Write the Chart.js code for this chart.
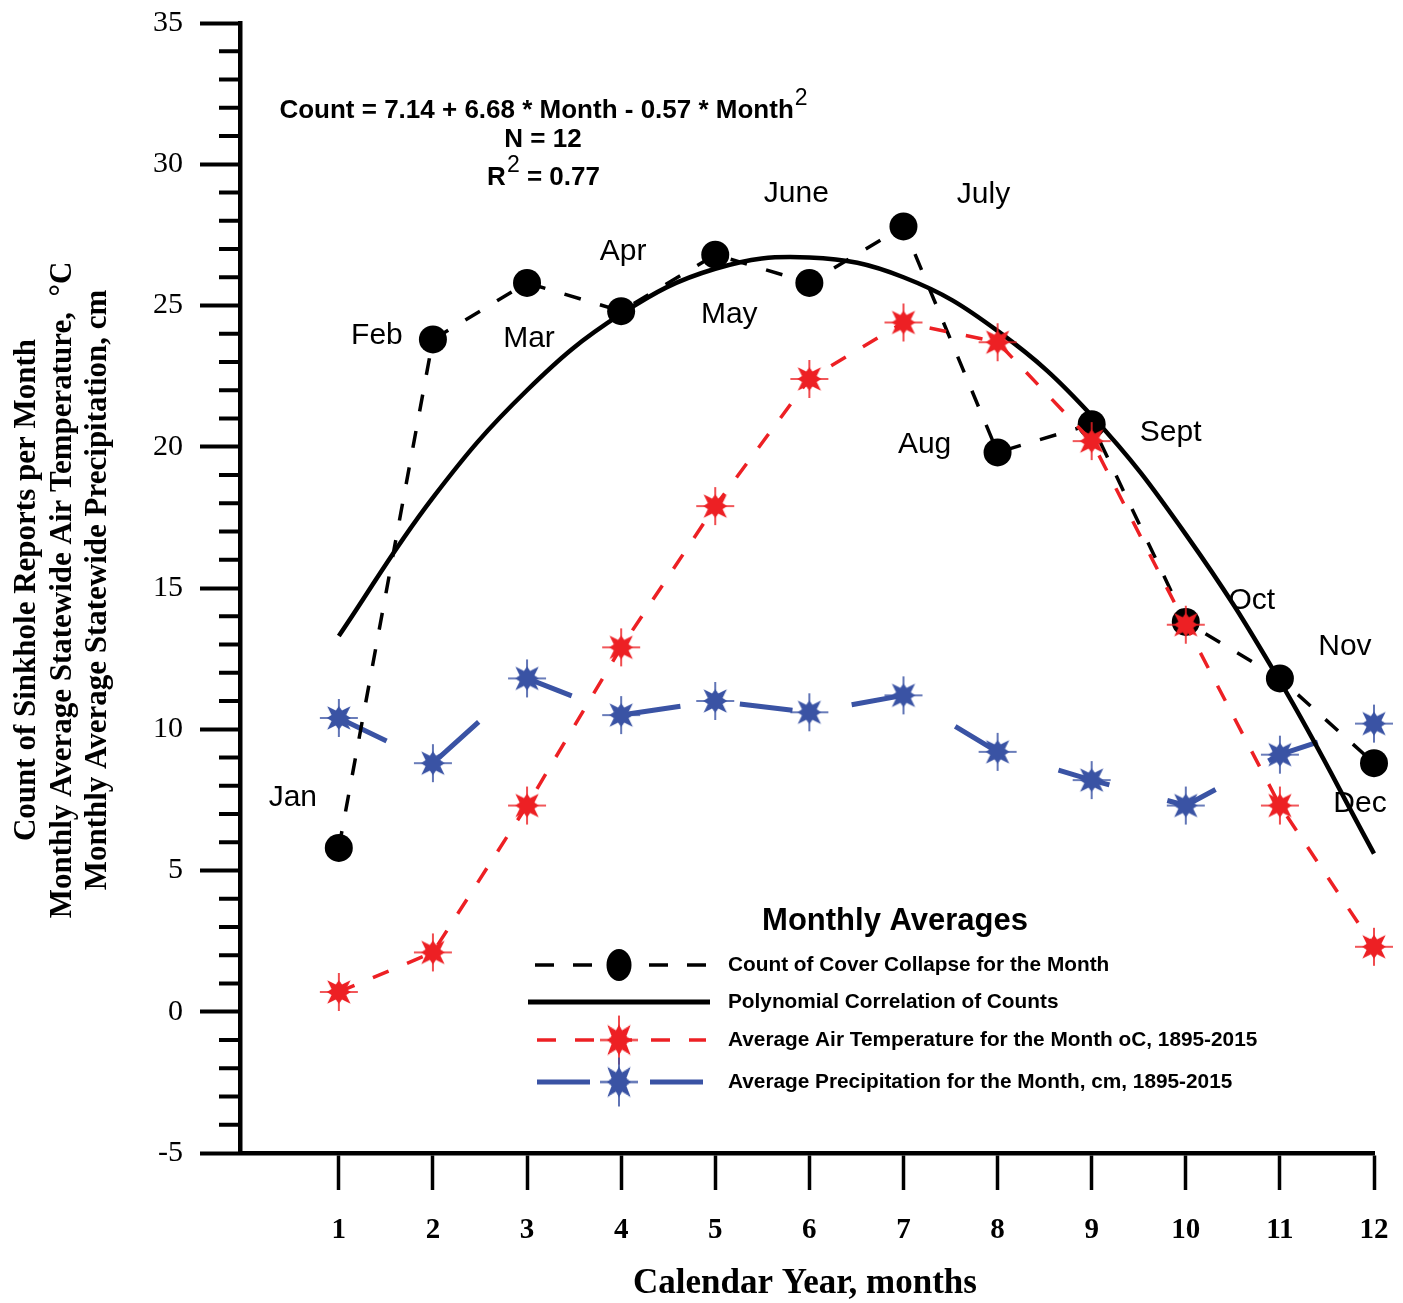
<!DOCTYPE html>
<html><head><meta charset="utf-8">
<script src="https://cdn.jsdelivr.net/npm/chart.js@4.4.1/dist/chart.umd.min.js"></script>
<style>html,body{margin:0;padding:0;background:#fff;}canvas{display:block;}</style>
</head><body>
<canvas id="c" width="1403" height="1303"></canvas>
<script>
// ---------- DATA ----------
const months = [1,2,3,4,5,6,7,8,9,10,11,12];
const monthNames = ['Jan','Feb','Mar','Apr','May','June','July','Aug','Sept','Oct','Nov','Dec'];
const countValues = [5.8,23.8,25.8,24.8,26.8,25.8,27.8,19.8,20.8,13.8,11.8,8.8];
const polyFitValues = [13.3,18.2,22.0,24.7,26.3,26.7,26.0,24.1,21.1,16.9,11.7,5.6];
const temperatureValues = [0.7,2.1,7.3,12.9,17.9,22.4,24.4,23.7,20.2,13.7,7.3,2.3];
const precipitationValues = [10.4,8.8,11.8,10.5,11.0,10.6,11.2,9.2,8.2,7.3,9.1,10.2];
const yTickValues = [-5,0,5,10,15,20,25,30,35];
const xTickValues = [1,2,3,4,5,6,7,8,9,10,11,12];
const legendTitle = 'Monthly Averages';
const legendLabels = ['Count of Cover Collapse for the Month','Polynomial Correlation of Counts','Average Air Temperature for the Month oC, 1895-2015','Average Precipitation for the Month, cm, 1895-2015'];
const equationMain = 'Count = 7.14 + 6.68 * Month - 0.57 * Month';
const equationN = 'N = 12';
const equationR = ' = 0.77';
const yTitleLines = ['Count of Sinkhole Reports per Month','Monthly Average Statewide Air Temperature,  \u00B0C','Monthly Average Statewide Precipitation, cm'];
const xTitle = 'Calendar Year, months';

// ---------- STYLE / LAYOUT ----------
const RED = '#ED2024', BLUE = '#3A53A4', BLACK = '#000000';
const labelOffsets = [[-46,-50],[-56,-4],[2,56],[2,-59],[14,60],[-13,-89],[80,-32],[-73,-8],[79,9],[66,-21],[65,-32],[-14,41]];
const SERIF = '"Liberation Serif","Times New Roman",serif';
const SANS = '"Liberation Sans",Arial,sans-serif';

function makeStar(color){
  const s = 42, c = document.createElement('canvas'); c.width = s; c.height = s;
  const g = c.getContext('2d'); const m = s/2;
  g.strokeStyle = color; g.lineWidth = 1.6;
  g.beginPath(); g.moveTo(m-19,m); g.lineTo(m+19,m); g.moveTo(m,m-19); g.lineTo(m,m+19); g.stroke();
  g.fillStyle = color; g.beginPath();
  for (let i=0;i<16;i++){
    const a = -Math.PI/2 + i*Math.PI/8;
    let r;
    if (i%2===1) r = 8; else { const k=i/2; r = (k%2===1) ? 16.5 : 12; }
    const px = m + r*Math.cos(a), py = m + r*Math.sin(a);
    if (i===0) g.moveTo(px,py); else g.lineTo(px,py);
  }
  g.closePath(); g.fill();
  return c;
}
const redStar = makeStar(RED), blueStar = makeStar(BLUE);

const toXY = arr => months.map((m,i)=>({x:m, y:arr[i]}));

const extras = {
  id:'extras',
  afterDraw(chart){
    const ctx = chart.ctx, ca = chart.chartArea, ys = chart.scales.y;
    ctx.save();
    // minor ticks on y axis
    ctx.strokeStyle = BLACK; ctx.lineWidth = 4;
    for (let v = ys.min; v <= ys.max; v += 1){
      if (Math.round(v) % 5 === 0) continue;
      const py = ys.getPixelForValue(v);
      ctx.beginPath(); ctx.moveTo(ca.left-21, py); ctx.lineTo(ca.left, py); ctx.stroke();
    }
    // month labels
    const meta = chart.getDatasetMeta(1);
    ctx.fillStyle = BLACK; ctx.font = '30px '+SANS; ctx.textAlign='center'; ctx.textBaseline='middle';
    meta.data.forEach((pt,i)=>{
      ctx.fillText(monthNames[i], pt.x + labelOffsets[i][0], pt.y + labelOffsets[i][1]);
    });
    // equation
    const EQ = 'bold 26px '+SANS, SUP = '23px '+SANS;
    ctx.font = EQ; ctx.textAlign='left';
    const wMain = ctx.measureText(equationMain).width;
    ctx.font = SUP; const wSup = ctx.measureText('2').width;
    let x0 = 543 - (wMain + wSup)/2;
    ctx.font = EQ; ctx.fillText(equationMain, x0, 111);
    ctx.font = SUP; ctx.fillText('2', x0 + wMain + 1, 99);
    ctx.font = EQ; ctx.textAlign='center'; ctx.fillText(equationN, 543, 140);
    ctx.textAlign='left';
    const wR = ctx.measureText('R').width, wRest = ctx.measureText(equationR).width;
    x0 = 543 - (wR + wSup + wRest)/2;
    ctx.fillText('R', x0, 178);
    ctx.font = SUP; ctx.fillText('2', x0 + wR + 1, 166);
    ctx.font = EQ; ctx.fillText(equationR, x0 + wR + wSup + 1, 178);
    // legend
    ctx.textAlign='center'; ctx.font = 'bold 31px '+SANS; ctx.fillText(legendTitle, 895, 921);
    const rowsY = [965, 1002, 1040, 1082];
    ctx.strokeStyle = BLACK; ctx.lineWidth = 3.5; ctx.setLineDash([19,19]);
    ctx.beginPath(); ctx.moveTo(535, rowsY[0]); ctx.lineTo(706, rowsY[0]); ctx.stroke();
    ctx.setLineDash([]);
    ctx.fillStyle = BLACK; ctx.beginPath(); ctx.ellipse(619, rowsY[0], 12.5, 16, 0, 0, Math.PI*2); ctx.fill();
    ctx.lineWidth = 5; ctx.beginPath(); ctx.moveTo(528, rowsY[1]); ctx.lineTo(710, rowsY[1]); ctx.stroke();
    ctx.strokeStyle = RED; ctx.lineWidth = 3.5; ctx.setLineDash([19,19]);
    ctx.beginPath(); ctx.moveTo(537, rowsY[2]); ctx.lineTo(706, rowsY[2]); ctx.stroke();
    ctx.setLineDash([]);
    ctx.drawImage(redStar, 619-21, rowsY[2]-27, 42, 54);
    ctx.strokeStyle = BLUE; ctx.lineWidth = 5; ctx.setLineDash([53,60]);
    ctx.beginPath(); ctx.moveTo(537, rowsY[3]); ctx.lineTo(706, rowsY[3]); ctx.stroke();
    ctx.setLineDash([]);
    ctx.drawImage(blueStar, 619-21, rowsY[3]-27, 42, 54);
    ctx.fillStyle = BLACK; ctx.textAlign='left'; ctx.font = 'bold 20.8px '+SANS;
    legendLabels.forEach((t,i)=> ctx.fillText(t, 728, rowsY[i]));
    // axis titles
    ctx.font = 'bold 35px '+SERIF; ctx.textAlign='center'; ctx.textBaseline='middle';
    ctx.fillText(xTitle, 805, 1284);
    ctx.font = 'bold 31px '+SERIF;
    const colX = [27, 63, 98];
    yTitleLines.forEach((t,i)=>{
      ctx.save(); ctx.translate(colX[i], 590); ctx.rotate(-Math.PI/2); ctx.fillText(t, 0, 0); ctx.restore();
    });
    ctx.restore();
  }
};

new Chart(document.getElementById('c'), {
  type: 'line',
  data: {
    datasets: [
      { label:'temp', data: toXY(temperatureValues), borderColor: RED, borderWidth: 3.5, borderDash:[17,20],
        pointStyle: redStar, pointRadius: 18, tension: 0, clip: false, fill:false },
      { label:'count', data: toXY(countValues), borderColor: BLACK, borderWidth: 3.5, borderDash:[17,20],
        pointStyle: 'circle', pointRadius: 14, pointBackgroundColor: BLACK, pointBorderWidth: 0, tension: 0, clip: false, fill:false },
      { label:'poly', data: toXY(polyFitValues), borderColor: BLACK, borderWidth: 4.5, pointRadius: 0, tension: 0.4, clip: false, fill:false },
      { label:'precip', data: toXY(precipitationValues), borderColor: BLUE, borderWidth: 5, borderDash:[53,60],
        pointStyle: blueStar, pointRadius: 18, tension: 0, clip: false, fill:false }
    ]
  },
  options: {
    responsive: false, animation: false, events: [],
    layout: { padding: { top: 22, right: 29, left: 0, bottom: 0 } },
    plugins: { legend: { display: false }, tooltip: { enabled: false } },
    scales: {
      x: {
        type: 'linear', min: -0.05, max: 12, position: 'bottom',
        afterBuildTicks: s => { s.ticks = xTickValues.map(v=>({value:v})); },
        afterFit: s => { s.height = 150; s.paddingLeft = 0; s.paddingRight = 0; },
        grid: { drawOnChartArea: false, drawTicks: true, tickLength: 37, tickWidth: 3.5, tickColor: BLACK },
        border: { display: true, color: BLACK, width: 4.5 },
        ticks: { color: BLACK, font: { family: SERIF, size: 29, weight: 'bold' }, padding: 23, maxRotation: 0, autoSkip: false,
                 callback: v => String(v) }
      },
      y: {
        type: 'linear', min: -5, max: 35,
        afterBuildTicks: s => { s.ticks = yTickValues.map(v=>({value:v})); },
        afterFit: s => { s.width = 240; s.paddingTop = 0; s.paddingBottom = 0; },
        grid: { drawOnChartArea: false, drawTicks: true, tickLength: 40, tickWidth: 4, tickColor: BLACK },
        border: { display: true, color: BLACK, width: 4.5 },
        ticks: { color: BLACK, font: { family: SERIF, size: 30 }, padding: 17, autoSkip: false, callback: v => String(v) }
      }
    }
  },
  plugins: [extras]
});
</script>
</body></html>
